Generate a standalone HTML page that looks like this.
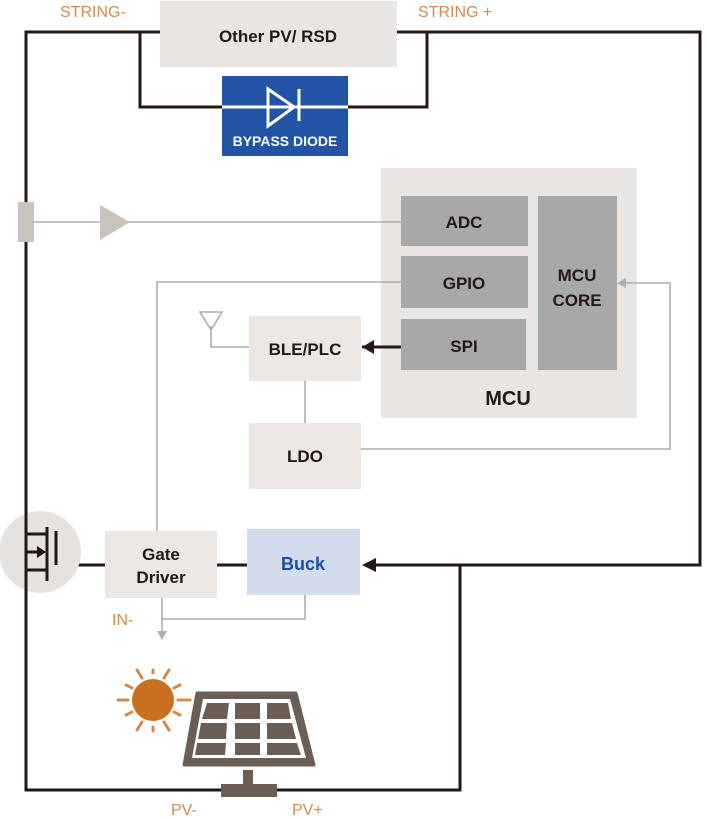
<!DOCTYPE html>
<html><head><meta charset="utf-8"><style>body{margin:0;background:#fff}svg{display:block}text{font-family:"Liberation Sans",sans-serif}</style></head><body>
<svg width="708" height="818" viewBox="0 0 708 818" xmlns="http://www.w3.org/2000/svg">
<g fill="none" stroke="#231815" stroke-width="3">
<polyline points="160,32 26,32 26,790 222,790"/>
<polyline points="397,32 700,32 700,565 372,565"/>
<polyline points="140,32 140,107 222,107"/>
<polyline points="348,107 427,107 427,32"/>
<polyline points="277,790 460,790 460,565"/>
<line x1="217" y1="565" x2="247" y2="565"/>
<line x1="56" y1="565" x2="105" y2="565"/>
</g>
<rect x="160" y="1" width="237" height="66" fill="#e9e5e3"/>
<text x="278" y="42" text-anchor="middle" font-size="17" font-weight="bold" fill="#231815">Other PV/ RSD</text>
<rect x="222" y="76" width="126" height="80" fill="#2253a4"/>
<g stroke="#fff" stroke-width="3" fill="none"><line x1="222" y1="107" x2="348" y2="107"/><polygon points="268,89 268,126 294,107"/><line x1="299" y1="89" x2="299" y2="121"/></g>
<text x="285" y="146" text-anchor="middle" font-size="14" font-weight="bold" fill="#fff">BYPASS DIODE</text>
<rect x="381" y="168" width="256" height="250" fill="#e9e5e3"/>
<g fill="none" stroke="#b0aeac" stroke-width="1.6">
<line x1="34" y1="222" x2="401" y2="222"/>
<polyline points="401,282 157,282 157,531"/>
<line x1="305" y1="381" x2="305" y2="423"/>
<polyline points="361,449 670,449 670,283 622,283"/>
<polyline points="211,326 211,347 249,347"/>
<polyline points="305,595 305,619 162,619"/>
<line x1="162" y1="598" x2="162" y2="632"/>
<polygon points="200,312 222,312 211,330"/>
</g>
<line x1="362" y1="347" x2="401" y2="347" stroke="#231815" stroke-width="3"/>
<polygon points="362,565 376,558 376,572" fill="#231815"/>
<polygon points="362,347 374,340 374,354" fill="#231815"/>
<polygon points="617,283 626,278 626,288" fill="#b0aeac"/>
<polygon points="162,640 157,631 167,631" fill="#b0aeac"/>
<rect x="18" y="202" width="16" height="40" fill="#c8c2bc"/>
<polygon points="100,205 130,222 100,240" fill="#c8c2bc"/>
<rect x="401" y="196" width="127" height="50" fill="#a8a8a8"/>
<rect x="401" y="256" width="127" height="52" fill="#a8a8a8"/>
<rect x="401" y="319" width="125" height="51" fill="#a8a8a8"/>
<rect x="538" y="196" width="79" height="174" fill="#a8a8a8"/>
<g font-size="17" font-weight="bold" fill="#231815" text-anchor="middle">
<text x="464" y="228">ADC</text><text x="464" y="289">GPIO</text><text x="464" y="352">SPI</text>
<text x="577" y="281">MCU</text><text x="577" y="306">CORE</text>
<text x="508" y="405" font-size="20">MCU</text>
</g>
<rect x="249" y="316" width="112" height="65" fill="#ebe7e5"/>
<rect x="249" y="423" width="112" height="66" fill="#ebe7e5"/>
<rect x="105" y="531" width="112" height="67" fill="#ebe7e5"/>
<rect x="247" y="529" width="113" height="66" fill="#d3dcec"/>
<g font-size="17" font-weight="bold" fill="#231815" text-anchor="middle">
<text x="305" y="355">BLE/PLC</text><text x="305" y="462">LDO</text>
<text x="161" y="560">Gate</text><text x="161" y="583">Driver</text>
<text x="303" y="570" fill="#1f4fa0" font-size="18">Buck</text>
</g>
<circle cx="40" cy="552" r="41" fill="#e6e2e0"/>
<g stroke="#231815" stroke-width="3" fill="none">
<line x1="26" y1="511" x2="26" y2="593"/>
<polyline points="26,534 47,534"/><polyline points="26,570 47,570"/><polyline points="26,552 40,552"/>
<line x1="47" y1="527" x2="47" y2="581"/>
<polyline points="56,531 56,565"/>
</g>
<polygon points="46,552 37,546 37,558" fill="#231815"/>
<g fill="#c87020">
<circle cx="153" cy="700" r="21"/>
<g stroke="#d08a4c" stroke-width="3" stroke-linecap="round">
<line x1="153" y1="670" x2="153" y2="673"/><line x1="153" y1="727" x2="153" y2="731"/>
<line x1="118" y1="700" x2="128" y2="700"/><line x1="178" y1="700" x2="190" y2="700"/>
<line x1="137" y1="670" x2="142" y2="678"/><line x1="169" y1="670" x2="164" y2="678"/>
<line x1="137" y1="730" x2="142" y2="722"/><line x1="169" y1="730" x2="164" y2="722"/>
<line x1="126" y1="685" x2="132" y2="688"/><line x1="180" y1="685" x2="174" y2="688"/>
<line x1="126" y1="715" x2="132" y2="712"/><line x1="180" y1="715" x2="174" y2="712"/>
</g></g>
<polygon points="197,693 296,693 314,765 184,765" fill="#6b5e55" stroke="#6b5e55" stroke-width="3" stroke-linejoin="round"/>
<polygon points="203,699 290,699 306,758 192,758" fill="#fff"/>
<g fill="#6b5e55">
<polygon points="207,703 229,703 227,719 202,719"/><rect x="235" y="703" width="25" height="16"/><polygon points="267,703 288,703 291,719 267,719"/>
<polygon points="201,723 227,723 226,739 198,739"/><rect x="235" y="723" width="25" height="16"/><polygon points="267,723 292,723 296,739 267,739"/>
<polygon points="197,743 226,743 225,755 195,755"/><rect x="235" y="743" width="25" height="12"/><polygon points="267,743 297,743 301,755 267,755"/>
<rect x="243" y="770" width="10" height="15"/><rect x="221" y="784" width="56" height="13"/>
</g>
<g font-size="16" fill="#d08a4c">
<text x="60" y="17">STRING-</text><text x="418" y="17">STRING +</text>
<text x="112" y="625">IN-</text><text x="171" y="815">PV-</text><text x="292" y="815">PV+</text>
</g>
</svg>
</body></html>
